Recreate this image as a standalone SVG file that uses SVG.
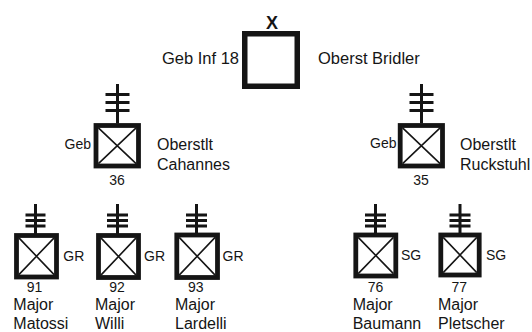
<svg xmlns="http://www.w3.org/2000/svg" width="532" height="332" viewBox="0 0 532 332">
<style>
text{font-family:"Liberation Sans",Arial,sans-serif;fill:#151515}
.box{fill:#fff;stroke:#151515;stroke-width:4.8}
.top{stroke-width:5.5}
.diag{stroke:#151515;stroke-width:1.6}
.mast{stroke:#151515;stroke-width:3;fill:none}
.name{font-size:16px}
.side{font-size:14px}
.num{font-size:14px;text-anchor:middle}
</style>
<rect width="532" height="332" fill="#fff"/>
<g id="connectors"/>
<g id="node-geb-inf-18">
<rect class="box top" x="244.75" y="33.75" width="52.5" height="52.5"/>
<text x="272" y="28.5" font-size="18" font-weight="bold" text-anchor="middle">X</text>
<text x="239" y="63.5" font-size="16.5" text-anchor="end">Geb Inf 18</text>
<text x="318" y="63.5" font-size="16.5">Oberst Bridler</text>
</g>
<g id="node-36">
<path class="mast" d="M117.5 84V123.5M105.5 94.5H129.5M105.5 102.5H129.5M105.5 110.5H129.5"/>
<rect class="box" x="96" y="125.5" width="42.5" height="40.5"/>
<path class="diag" d="M98.4 127.9L136.1 163.6M136.1 127.9L98.4 163.6"/>
<text class="side" x="91" y="149" text-anchor="end">Geb</text>
<text class="name" x="157" y="150">Oberstlt</text>
<text class="name" x="157" y="169.5">Cahannes</text>
<text class="num" x="117" y="185">36</text>
</g>
<g id="node-35">
<path class="mast" d="M421.5 84V123.5M409.5 94.5H433.5M409.5 102.5H433.5M409.5 110.5H433.5"/>
<rect class="box" x="400.2" y="125.5" width="42.3" height="40.5"/>
<path class="diag" d="M402.6 127.9L440.1 163.6M440.1 127.9L402.6 163.6"/>
<text class="side" x="396.5" y="148" text-anchor="end">Geb</text>
<text class="name" x="460" y="150">Oberstlt</text>
<text class="name" x="460" y="169.5">Ruckstuhl</text>
<text class="num" x="421" y="185">35</text>
</g>
<g id="node-91">
<path class="mast" d="M35.5 204V234M25.5 215H45.5M25.5 220.5H45.5M25.5 226H45.5"/>
<rect class="box" x="16.5" y="235.5" width="40" height="41.5"/>
<path class="diag" d="M18.9 237.9L54.1 274.6M54.1 237.9L18.9 274.6"/>
<text class="side" x="63.3" y="261">GR</text>
<text class="num" x="34.5" y="291.5">91</text>
<text class="name" x="13.3" y="310">Major</text>
<text class="name" x="13.3" y="328.5">Matossi</text>
</g>
<g id="node-92">
<path class="mast" d="M117.5 204V234M107 215H128M107 220.5H128M107 226H128"/>
<rect class="box" x="98.5" y="235.5" width="40" height="42"/>
<path class="diag" d="M100.9 237.9L136.1 275.1M136.1 237.9L100.9 275.1"/>
<text class="side" x="144" y="261">GR</text>
<text class="num" x="117" y="291.5">92</text>
<text class="name" x="95" y="310">Major</text>
<text class="name" x="95" y="328.5">Willi</text>
</g>
<g id="node-93">
<path class="mast" d="M196.5 204V234M186 215H207M186 220.5H207M186 226H207"/>
<rect class="box" x="176.8" y="235" width="40.7" height="42.5"/>
<path class="diag" d="M179.2 237.4L215.1 275.1M215.1 237.4L179.2 275.1"/>
<text class="side" x="222.5" y="261">GR</text>
<text class="num" x="195.7" y="291.5">93</text>
<text class="name" x="175" y="310">Major</text>
<text class="name" x="175" y="328.5">Lardelli</text>
</g>
<g id="node-76">
<path class="mast" d="M375.5 204V234M365 215H386M365 220.5H386M365 226H386"/>
<rect class="box" x="355.8" y="235" width="40" height="41"/>
<path class="diag" d="M358.2 237.4L393.4 273.6M393.4 237.4L358.2 273.6"/>
<text class="side" x="401" y="260">SG</text>
<text class="num" x="375.5" y="291.5">76</text>
<text class="name" x="352.7" y="310">Major</text>
<text class="name" x="352.7" y="328.5">Baumann</text>
</g>
<g id="node-77">
<path class="mast" d="M460 204V234M449.5 215H470.5M449.5 220.5H470.5M449.5 226H470.5"/>
<rect class="box" x="440.8" y="235" width="38.4" height="40"/>
<path class="diag" d="M443.2 237.4L476.8 272.6M476.8 237.4L443.2 272.6"/>
<text class="side" x="486" y="260">SG</text>
<text class="num" x="459.3" y="291.5">77</text>
<text class="name" x="438" y="310">Major</text>
<text class="name" x="438" y="328.5">Pletscher</text>
</g>
</svg>
